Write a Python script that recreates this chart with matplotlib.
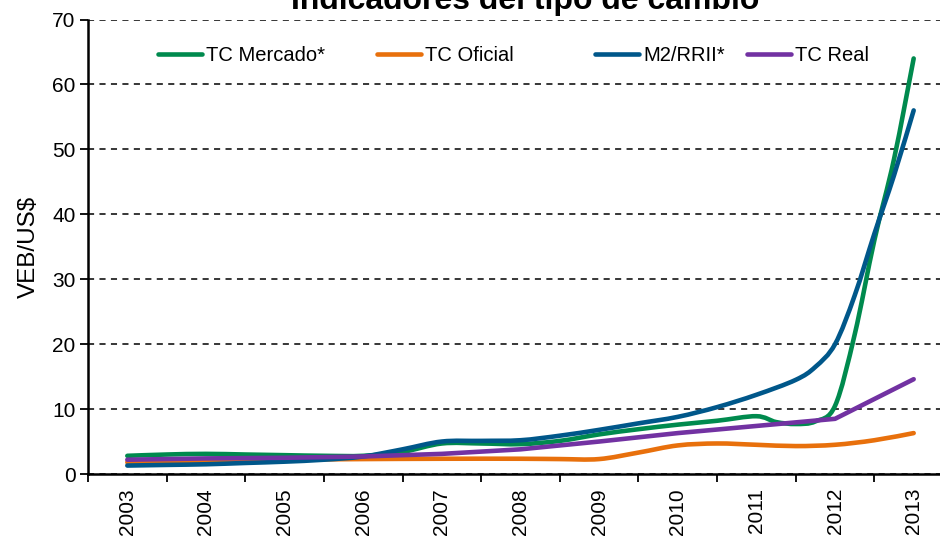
import numpy as np
import matplotlib
matplotlib.use("Agg")
import matplotlib.pyplot as plt
from matplotlib.path import Path
from matplotlib.patches import PathPatch
from matplotlib.lines import Line2D

plt.rcParams['font.family'] = ['Liberation Sans', 'DejaVu Sans']

title = "Indicadores del tipo de cambio"
ylabel = "VEB/US$"
years = [2003, 2004, 2005, 2006, 2007, 2008, 2009, 2010, 2011, 2012, 2013]

# TC Mercado*
t_mercado = [2003.0, 2003.5, 2004.0, 2004.5, 2005.0, 2005.5, 2006.0, 2006.5, 2007.0, 2007.5,
             2008.0, 2008.5, 2009.0, 2009.5, 2010.0, 2010.5, 2011.0, 2011.25, 2011.5, 2011.75,
             2012.0, 2012.25, 2012.5, 2012.75, 2013.0]
v_mercado = [2.8, 3.0, 3.1, 3.0, 2.9, 2.8, 2.8, 3.4, 4.7, 4.7,
             4.6, 5.1, 6.1, 6.9, 7.6, 8.2, 8.9, 8.0, 7.7, 8.1,
             10.5, 21.5, 36.0, 48.5, 64.0]
# TC Oficial
t_oficial = [2003.0, 2003.5, 2004.0, 2004.5, 2005.0, 2005.5, 2006.0, 2007.0, 2008.0, 2008.5,
             2009.0, 2009.5, 2010.0, 2010.5, 2011.0, 2011.5, 2012.0, 2012.5, 2013.0]
v_oficial = [1.8, 1.9, 2.0, 2.1, 2.2, 2.25, 2.3, 2.35, 2.35, 2.3,
             2.3, 3.3, 4.4, 4.7, 4.5, 4.3, 4.5, 5.2, 6.3]
# M2/RRII*
t_m2 = [2003.0, 2003.5, 2004.0, 2004.5, 2005.0, 2005.5, 2006.0, 2006.5, 2007.0, 2007.5,
        2008.0, 2008.5, 2009.0, 2009.5, 2010.0, 2010.5, 2011.0, 2011.5, 2011.75,
        2012.0, 2012.25, 2012.5, 2012.75, 2013.0]
v_m2 = [1.3, 1.4, 1.5, 1.7, 1.9, 2.2, 2.7, 3.8, 5.0, 5.1,
        5.2, 5.9, 6.8, 7.8, 8.8, 10.3, 12.2, 14.5, 16.5,
        20.0, 27.5, 37.0, 46.0, 56.0]
# TC Real
t_real = [2003.0, 2004.0, 2005.0, 2006.0, 2007.0, 2008.0, 2009.0, 2010.0, 2011.0, 2012.0, 2013.0]
v_real = [2.2, 2.4, 2.5, 2.7, 3.1, 3.8, 5.0, 6.3, 7.4, 8.5, 14.6]

series = [
    ("TC Mercado*", t_mercado, v_mercado, "#008A4E", True),
    ("TC Oficial", t_oficial, v_oficial, "#E8700C", True),
    ("M2/RRII*", t_m2, v_m2, "#00578A", True),
    ("TC Real", t_real, v_real, "#7232A2", False),
]
# legend entry left edges (pixels in the 940-wide figure)
legend_x_px = [158, 377, 595, 747]


def smooth_path(xs, ys):
    """Excel-like smoothed line: cubic Bezier through the data points."""
    x = np.asarray(xs, float)
    y = np.asarray(ys, float)
    n = len(x)
    verts = [(x[0], y[0])]
    codes = [Path.MOVETO]
    for i in range(n - 1):
        x0, y0 = (x[i - 1], y[i - 1]) if i > 0 else (x[i], y[i])
        x3, y3 = (x[i + 2], y[i + 2]) if i + 2 < n else (x[i + 1], y[i + 1])
        c1 = (x[i] + (x[i + 1] - x0) / 6.0, y[i] + (y[i + 1] - y0) / 6.0)
        c2 = (x[i + 1] - (x3 - x[i]) / 6.0, y[i + 1] - (y3 - y[i]) / 6.0)
        verts += [c1, c2, (x[i + 1], y[i + 1])]
        codes += [Path.CURVE4, Path.CURVE4, Path.CURVE4]
    return Path(verts, codes)


fig = plt.figure(figsize=(9.4, 5.4), dpi=100)
ax = fig.add_axes([88 / 940, 66 / 540, 865 / 940, (474 - 19.5) / 540])

handles = []
for name, t, v, col, smooth in series:
    if smooth:
        patch = PathPatch(smooth_path(t, v), facecolor="none", edgecolor=col,
                          lw=3.3, capstyle="round", joinstyle="round", zorder=3)
        ax.add_patch(patch)
    else:
        ax.plot(t, v, color=col, lw=3.3, solid_capstyle="round",
                solid_joinstyle="round", zorder=3)
    handles.append(Line2D([], [], color=col, lw=3.3, solid_capstyle="round", label=name))

ax.set_xlim(2002.5, 2013.5)
ax.set_ylim(0, 70)
ax.set_yticks(np.arange(0, 71, 10))
ax.set_xticks([y - 0.5 for y in years] + [years[-1] + 0.5])
ax.set_xticklabels([])
ax.set_xticks(years, minor=True)
ax.set_xticklabels([str(y) for y in years], minor=True, rotation=90)
ax.tick_params(axis="x", which="minor", length=0, labelsize=15, pad=10)
ax.tick_params(axis="x", which="major", length=6, width=1.3, direction="out")
ax.tick_params(axis="y", length=6, width=1.3, direction="out", labelsize=15, pad=3)

for s in ["top", "right"]:
    ax.spines[s].set_visible(False)
for s in ["left", "bottom"]:
    ax.spines[s].set_linewidth(1.8)
    ax.spines[s].set_zorder(4)

ax.yaxis.grid(True, color="black", linestyle=(0, (4, 3.5)), linewidth=1.1)
ax.set_axisbelow(True)

ax.set_ylabel(ylabel, fontsize=17.5, labelpad=9)

fig.text(525 / 940, 1 - 9 / 540, title, ha="center", va="baseline",
         fontsize=23, fontweight="bold")

for h, xp in zip(handles, legend_x_px):
    fig.legend(handles=[h], loc="center left",
               bbox_to_anchor=(xp / 940, 1 - 55.5 / 540),
               frameon=False, fontsize=14.5, handlelength=2.2,
               handletextpad=0.2, borderpad=0, borderaxespad=0)

fig.savefig("out.png", dpi=100)
